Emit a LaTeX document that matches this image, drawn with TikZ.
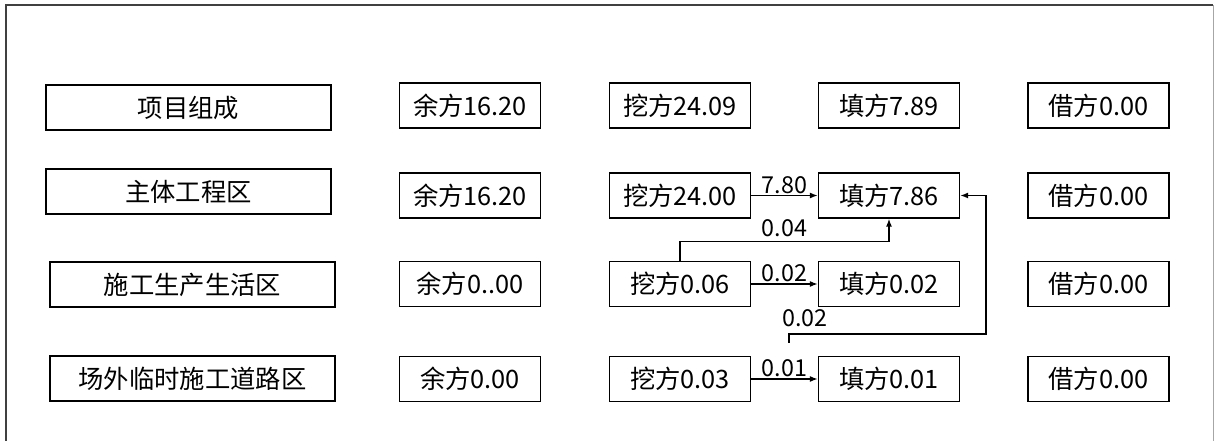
\documentclass[tikz,border=0pt]{standalone}
\usepackage{fontspec}
\setmainfont{Noto Sans CJK SC}
\usetikzlibrary{arrows.meta}

\tikzset{
  box/.style={draw, line width=1pt, inner sep=0pt, minimum height=33.75pt, font=\fontsize{19}{22}\selectfont},
  namebox/.style={box, minimum width=213.75pt},
  numbox/.style={box, minimum width=105.75pt},
  arr/.style={line width=1pt, -{Latex[length=6pt,width=4.5pt]}},
  lbl/.style={font=\fontsize{17.5}{20}\selectfont, inner sep=1pt}
}

\begin{document}
\begin{tikzpicture}[x=0.75pt, y=-0.75pt]
\useasboundingbox (0,0) rectangle (1214,441) ;
% frame
\draw[line width=1.4pt, black!75] (6,441) -- (6,5) -- (1213,5) ;
\draw[line width=0.6pt, black!35] (1213,5) -- (1213,441) ;
% first column
\node[namebox] (zc) at (188.5,107.5) {项目组成} ;
\node[namebox] (zt) at (188.5,191.5) {主体工程区} ;
\node[namebox] (sg) at (192.5,284.5) {施工生产生活区} ;
\node[namebox] (cw) at (192.5,378.5) {场外临时施工道路区} ;
% 余方
\node[numbox] (yu1) at (470,105.5) {余方16.20} ;
\node[numbox] (yu2) at (470,195.5) {余方16.20} ;
\node[numbox] (yu3) at (470,284) {余方0..00} ;
\node[numbox] (yu4) at (470,379) {余方0.00} ;
% 挖方
\node[numbox] (wa1) at (680,105.5) {挖方24.09} ;
\node[numbox] (wa2) at (680,195.5) {挖方24.00} ;
\node[numbox] (wa3) at (680,284) {挖方0.06} ;
\node[numbox] (wa4) at (680,379) {挖方0.03} ;
% 填方
\node[numbox] (tian1) at (889,105.5) {填方7.89} ;
\node[numbox] (tian2) at (889,195.5) {填方7.86} ;
\node[numbox] (tian3) at (889,284) {填方0.02} ;
\node[numbox] (tian4) at (889,379) {填方0.01} ;
% 借方
\node[numbox] (jie1) at (1098.5,105.5) {借方0.00} ;
\node[numbox] (jie2) at (1098.5,195.5) {借方0.00} ;
\node[numbox] (jie3) at (1098.5,284) {借方0.00} ;
\node[numbox] (jie4) at (1098.5,379) {借方0.00} ;
% flows
\draw[arr] (wa2.east) -- (tian2.west) node[midway, above, lbl] (l1) {7.80} ;
\draw[arr] (wa3.north) -- ++(0,-19) -| (tian2.south) node[pos=0.25, above=2pt, lbl] (l2) {0.04} ;
\draw[arr] (wa3.east) -- (tian3.west) node[midway, above, lbl] (l3) {0.02} ;
\coordinate (s) at (789,343) ;
\coordinate (t) at (986,334) ;
\draw[arr] (s) |- (t) node[pos=0.54, above=4pt, lbl] (l4) {0.02} |- (tian2.east) ;
\draw[arr] (wa4.east) -- (tian4.west) node[midway, above, lbl] (l5) {0.01} ;
\end{tikzpicture}
\end{document}
